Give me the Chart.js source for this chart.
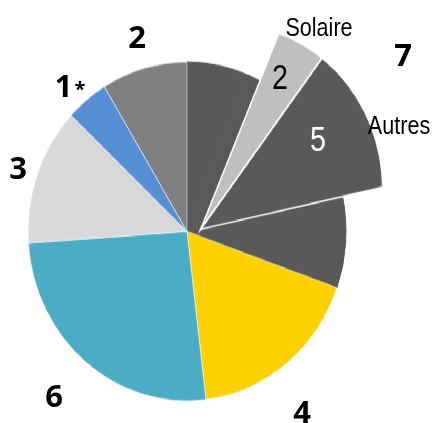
<!DOCTYPE html>
<html>
<head>
<meta charset="utf-8">
<script src="https://cdn.jsdelivr.net/npm/chart.js@4.4.1/dist/chart.umd.min.js"></script>
<style>
  html, body { margin: 0; padding: 0; background: #fff; }
  #page { position: relative; width: 433px; height: 423px; overflow: hidden; }
  /* the reference pie is a little taller than wide */
  #pies { position: absolute; left: 0; top: 0; width: 433px; height: 397px; transform: scaleY(1.0655); transform-origin: 0 0; }
  #pies canvas { position: absolute; left: 0; top: 0; }
  .lbl { position: absolute; line-height: 1; transform: translate(-50%, -50%); white-space: nowrap; color: #000; }
  .num { font-family: "Open Sans", "Liberation Sans", sans-serif; font-weight: 700; font-size: 31px; }
  .num small { font-size: 20px; vertical-align: 1px; margin-left: 2px; font-weight: 700; }
  .sub { font-family: "Liberation Sans", Arial, sans-serif; font-size: 26px; transform: translate(-50%, -50%) scaleX(0.83); }
  .tag { font-family: "Liberation Sans", Arial, sans-serif; font-size: 35px; transform: translate(-50%, -50%) scaleX(0.82); }
</style>
</head>
<body>
<div id="page">
  <div id="pies">
    <canvas id="pie" width="433" height="397"></canvas>
    <canvas id="cut" width="433" height="397"></canvas>
  </div>
</div>
<script>
// shares of the pie (percent), clockwise from 12 o'clock
const categories = ['7', '4', '6', '3', '1*', '2'];
const shares = [30.4, 17.7, 25.8, 13.1, 4.3, 8.7];
const colors = ['#595959', '#FFD100', '#4BACC6', '#D9D9D9', '#558ED5', '#808080'];

// part of "7" that is pulled out of the pie
const subLabels = ['Solaire', 'Autres'];
const subTags = ['2', '5'];
const subShares = [3.9, 11.3];
const subBefore = 6.4;   // share of "7" before the cut-out
const subColors = ['#BFBFBF', '#595959'];

const rest7 = shares[0] - subBefore - subShares[0] - subShares[1];
const pieData = [subBefore, subShares[0], subShares[1], rest7].concat(shares.slice(1));
const pieLabels = ['7', subLabels[0], subLabels[1], '7'].concat(categories.slice(1));

const mainColors = [colors[0], colors[0], colors[0], colors[0]].concat(colors.slice(1));
const mainBorders = mainColors.map((c, i) => i < 4 ? c : 'rgba(255,255,255,0.55)');

const cutColors = pieData.map((v, i) => i === 1 ? subColors[0] : i === 2 ? subColors[1] : 'rgba(0,0,0,0)');
const cutBorderW = pieData.map((v, i) => (i === 1 || i === 2) ? 1.5 : 0);

const common = {
    responsive: false,
    animation: false,
    events: [],
    plugins: { legend: { display: false }, tooltip: { enabled: false } }
};

new Chart(document.getElementById('pie'), {
    type: 'pie',
    data: {
        labels: pieLabels,
        datasets: [{
            data: pieData,
            backgroundColor: mainColors,
            borderColor: mainBorders,
            borderWidth: 1
        }]
    },
    options: Object.assign({}, common, {
        radius: 159,
        layout: { padding: { left: 0, right: 59, top: 37.4, bottom: 0 } }
    })
});

// rounds off the pulled-out wedge like in the picture (arc centred off the tip)
const cutClip = {
    id: 'cutClip',
    beforeDatasetsDraw(chart) {
        const ctx = chart.ctx;
        ctx.save();
        ctx.beginPath();
        ctx.arc(228, 177.2, 154, 0, Math.PI * 2);
        ctx.clip();
    },
    afterDatasetsDraw(chart) {
        chart.ctx.restore();
    }
};

// the pulled-out wedge, drawn over the main pie
new Chart(document.getElementById('cut'), {
    type: 'pie',
    data: {
        labels: pieLabels,
        datasets: [{
            data: pieData,
            backgroundColor: cutColors,
            borderColor: '#ffffff',
            borderWidth: cutBorderW,
            borderJoinStyle: 'miter'
        }]
    },
    options: Object.assign({}, common, {
        radius: 215,
        layout: { padding: { left: 0, right: 31.6, top: 33.4, bottom: 0 } }
    }),
    plugins: [cutClip]
});

// text around the pie
const labelPos = {
    '2': [137, 36], '1*': [70, 85], '3': [18, 167], '6': [54, 395], '4': [302, 411], '7': [403, 54]
};
const page = document.getElementById('page');
function addLabel(text, cls, x, y, color) {
    const d = document.createElement('div');
    d.className = 'lbl ' + cls;
    d.style.left = x + 'px';
    d.style.top = y + 'px';
    if (color) d.style.color = color;
    if (text.endsWith('*')) {
        d.textContent = text.slice(0, -1);
        const s = document.createElement('small');
        s.textContent = '*';
        d.appendChild(s);
    } else {
        d.textContent = text;
    }
    page.appendChild(d);
}
categories.forEach(c => addLabel(c, 'num', labelPos[c][0], labelPos[c][1]));
addLabel(subLabels[0], 'sub', 319, 27);
addLabel(subLabels[1], 'sub', 399, 125);
addLabel(subTags[0], 'tag', 280, 76, '#000');
addLabel(subTags[1], 'tag', 318, 138, '#fff');
</script>
</body>
</html>
